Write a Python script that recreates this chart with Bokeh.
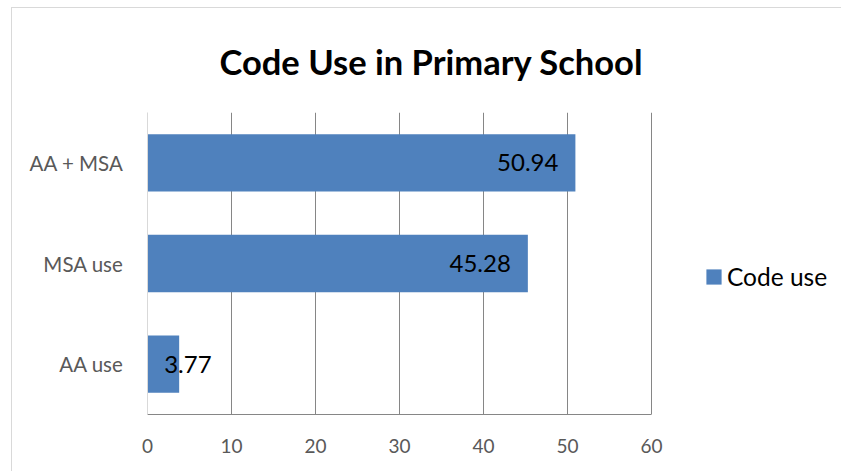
from bokeh.plotting import figure
from bokeh.models import (ColumnDataSource, Legend, LegendItem, FixedTicker,
                          FactorRange, Range1d, Title)
from bokeh.embed import file_html
from bokeh.resources import INLINE
from bokeh.core.properties import value

# Data
categories = ["AA use", "MSA use", "AA + MSA"]
code_use = [3.77, 45.28, 50.94]
x_ticks = [0, 10, 20, 30, 40, 50, 60]
series_name = "Code use"
title_text = "Code Use in Primary School"

FONT = "Lato"
BLUE = "#4f81bd"
GRID = "#868686"
LIGHT = "#d9d9d9"
TICK_TEXT = "#595959"
TITLE_SIZE = "34.5px"

# canvas geometry
W, H = 830, 464
BORDER_L, BORDER_R, BORDER_T, BORDER_B = 135, 0, 99, 58
AXIS_PX = 504  # pixel length of the 0..60 value axis

x_min, x_max = x_ticks[0], x_ticks[-1]
px_per_unit = AXIS_PX / (x_max - x_min)
frame_w = W - BORDER_L - BORDER_R
# the frame runs on past 60 to leave room for the legend on the right
x_end = x_min + frame_w / px_per_unit

# label placement: inside the bar end when it fits, otherwise just past the bar
offsets, aligns = [], []
for v in code_use:
    if v * px_per_unit > 60:
        offsets.append(-17)
        aligns.append("right")
    else:
        offsets.append(-15)
        aligns.append("left")

src = ColumnDataSource(dict(
    category=categories,
    value=code_use,
    label=[f"{v:.2f}" for v in code_use],
    xoff=offsets,
    align=aligns,
))

p = figure(width=W, height=H,
           y_range=FactorRange(*categories, range_padding=0),
           x_range=Range1d(x_min, x_end),
           output_backend="svg", toolbar_location=None,
           min_border_left=BORDER_L, min_border_right=BORDER_R,
           min_border_top=BORDER_T, min_border_bottom=BORDER_B,
           margin=(7, 0, 0, 11),
           styles={"border-left": f"1px solid {LIGHT}",
                   "border-top": f"1px solid {LIGHT}"})

p.outline_line_color = None
p.background_fill_color = "white"
p.border_fill_color = "white"

bars = p.hbar(y="category", left=0, right="value", height=0.57, source=src,
              fill_color=BLUE, line_color=None)

p.text(x="value", y="category", text="label", source=src,
       x_offset="xoff", text_align="align", text_baseline="middle",
       text_font=value(FONT), text_font_size="24px", text_color="black")

# axes
p.xaxis.ticker = FixedTicker(ticks=x_ticks)
p.xaxis.bounds = (x_min, x_max)
p.xaxis.axis_line_color = GRID
p.xaxis.major_tick_line_color = None
p.xaxis.minor_tick_line_color = None
p.xaxis.major_label_text_font = FONT
p.xaxis.major_label_text_font_size = "19px"
p.xaxis.major_label_text_color = TICK_TEXT
p.xaxis.major_label_standoff = 18

p.yaxis.axis_line_color = LIGHT
p.yaxis.major_tick_line_color = None
p.yaxis.minor_tick_line_color = None
p.yaxis.major_label_text_font = FONT
p.yaxis.major_label_text_font_size = "20.5px"
p.yaxis.major_label_text_color = TICK_TEXT
p.yaxis.major_label_standoff = 18

p.ygrid.grid_line_color = None
p.xgrid.ticker = FixedTicker(ticks=x_ticks[1:])
p.xgrid.grid_line_color = GRID
p.xgrid.grid_line_width = 1

# title
p.add_layout(Title(text=title_text, align="left", offset=72, standoff=61,
                   text_font=FONT, text_font_size=TITLE_SIZE, text_font_style="bold",
                   text_color="black"), "above")

# legend swatch is drawn inset by 10% of the glyph box, so 19px gives a 15px square
legend = Legend(items=[LegendItem(label=series_name, renderers=[bars])],
                location=(557, 123), padding=0, margin=0,
                glyph_width=19, glyph_height=19, label_standoff=4,
                label_text_font=FONT, label_text_font_size="24.5px",
                label_text_color="black",
                border_line_color=None, background_fill_alpha=0)
p.add_layout(legend)

open("out.html", "w").write(file_html(p, INLINE))
